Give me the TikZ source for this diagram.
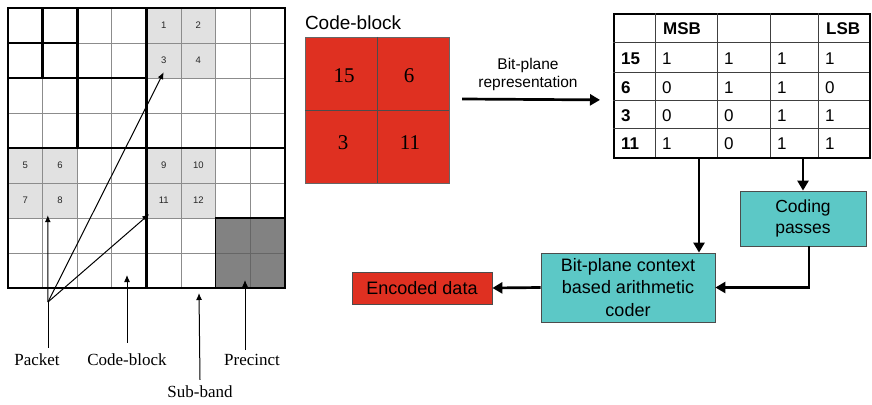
\documentclass[tikz,border=0pt]{standalone}
\usepackage{fontspec}
\setmainfont{Liberation Sans}
\newfontfamily\timesfont{Liberation Serif}
\usetikzlibrary{arrows.meta,positioning,calc}
\definecolor{blockred}{RGB}{223,48,33}
\definecolor{coderteal}{RGB}{92,200,198}
\definecolor{cellgray}{RGB}{225,225,225}
\definecolor{precgray}{RGB}{130,130,130}

\begin{document}
\begin{tikzpicture}[
  x=1pt, y=-1pt,
  >=Latex,
  thinline/.style={draw=black!45, line width=0.9pt},
  thickline/.style={line width=2.6pt},
  pcell/.style={fill=cellgray, minimum width=34.6pt, minimum height=35pt, inner sep=0pt, font=\fontsize{9.5}{10}\selectfont, text=black!85},
  lbl/.style={font=\timesfont\fontsize{17}{20}\selectfont, inner sep=1pt},
  thinarrow/.style={-{Latex[length=7pt,width=6pt]}, line width=1pt},
  bigarrow/.style={-{Triangle[length=10pt,width=11pt]}, line width=2.7pt},
  cbnum/.style={font=\timesfont\fontsize{21}{24}\selectfont, inner sep=0pt},
  tcell/.style={anchor=west, inner sep=0pt, font=\fontsize{17}{20}\selectfont},
  tbold/.style={tcell, font=\bfseries\fontsize{17}{20}\selectfont},
  box/.style={draw=black!70, line width=0.8pt, align=center, inner sep=0pt, font=\fontsize{18}{22.5}\selectfont}
]
\useasboundingbox (0,0) rectangle (872,404);

% sub-band grid with packets
\foreach \n/\i/\j in {1/4/0, 2/5/0, 3/4/1, 4/5/1, 5/0/4, 6/1/4, 7/0/5, 8/1/5, 9/4/4, 10/5/4, 11/4/5, 12/5/5}
  \node[pcell] (c\n) at ({8+(\i+0.5)*34.6},{8+(\j+0.5)*35}) {\n};
\fill[precgray] (215.6,218) rectangle (284.8,288);
\foreach \k in {1,...,7} {
  \draw[thinline] ({8+\k*34.6},8) -- ({8+\k*34.6},288);
  \draw[thinline] (8,{8+\k*35}) -- (284.8,{8+\k*35});
}
\draw[black!60, line width=0.9pt] (250.2,218) -- (250.2,288) (215.6,253) -- (284.8,253);
\draw[line width=1.6pt] (215.6,218) rectangle (284.8,288);
\draw[thickline] (8,8) rectangle (284.8,288);
\draw[thickline] (146.4,8) -- (146.4,288) (8,148) -- (284.8,148);
\draw[thickline] (77.2,8) -- (77.2,148) (8,78) -- (146.4,78);
\draw[thickline] (42.6,8) -- (42.6,78) (8,43) -- (77.2,43);

\node[lbl] (pkt) at (37,360) {Packet};
\node[lbl] (cbk) at (127,360) {Code-block};
\node[lbl] (pre) at (252,360) {Precinct};
\node[lbl] (sb) at (200,392) {Sub-band};

\coordinate (pj) at (48,302);
\coordinate (cbt) at (127,275);
\coordinate (sbt) at (199,293);
\coordinate (prt) at (245,280);

\draw[line width=1pt] ([xshift=11pt,yshift=5pt]pkt.north) -- (pj);
\draw[thinarrow] (pj) -- ([xshift=5.4pt,yshift=3pt]c8.south west);
\draw[thinarrow] (pj) -- ([xshift=3pt,yshift=4pt]c11.south west);
\draw[thinarrow] (pj) -- ([yshift=6pt]c3.south);
\draw[thinarrow] ([yshift=10pt]cbk.north) -- (cbt);
\draw[thinarrow] ([yshift=5pt]sb.north) -- (sbt);
\draw[thinarrow] ([xshift=-7pt,yshift=3pt]pre.north) -- (prt);

% code-block
\node[draw=black!60, fill=blockred, minimum width=144pt, minimum height=146pt, inner sep=0pt] (cb) at (377,110) {};
\draw[black!70, line width=0.8pt] (cb.north) -- (cb.south) (cb.west) -- (cb.east);
\node[cbnum] (n15) at (344,76) {15};
\node[cbnum] (n6) at (409,76) {6};
\node[cbnum] (n3) at (343,143) {3};
\node[cbnum] (n11) at (410,143) {11};
\node[anchor=base west, inner sep=0pt, font=\fontsize{19}{22}\selectfont] (cbtitle) at ([yshift=7.5pt]cb.north west) {Code-block};

\node[align=center, font=\fontsize{15.5}{18}\selectfont] (bprep) at (528,74) {Bit-plane\\representation};

% bit-plane table
\node[draw, line width=1.8pt, minimum width=256pt, minimum height=144pt, anchor=north west, inner sep=0pt] (tbl) at (613,13) {};
\foreach \x in {655,717,770,818}
  \draw[black!75, line width=0.9pt] (\x,13) -- (\x,157);
\foreach \y in {42,72,100,128}
  \draw[black!75, line width=0.9pt] (613,\y) -- (869,\y);
\node[tbold] (msb) at (663,29) {MSB};
\node[tbold] (lsb) at (826,29) {LSB};
\foreach \r/\y/\a/\b/\c/\d in {15/58.5/1/1/1/1, 6/87.5/0/1/1/0, 3/115.5/0/0/1/1, 11/144/1/0/1/1} {
  \node[tbold] (r\r) at (621,\y) {\r};
  \node[tcell] (v\r-1) at (662,\y) {\a};
  \node[tcell] (v\r-2) at (724,\y) {\b};
  \node[tcell] (v\r-3) at (777,\y) {\c};
  \node[tcell] (v\r-4) at (825,\y) {\d};
}

\draw[bigarrow] ([shift={(13,-11)}]cb.east) -- ([shift={(-13,14)}]tbl.west);

% coder
\node[box, fill=coderteal, minimum width=126pt, minimum height=55pt, font=\fontsize{17.5}{21}\selectfont] (cp) at (803,218.5) {Coding\\passes};
\node[box, fill=coderteal, minimum width=174pt, minimum height=69pt] (bpc) at (628,287.5) {Bit-plane context\\based arithmetic\\coder};
\node[box, fill=blockred, minimum width=140pt, minimum height=32pt] (enc) at (422,288) {Encoded data};

\coordinate (tap) at ([xshift=71pt]bpc.north);
\draw[bigarrow] (tap |- tbl.south) -- (tap);
\draw[bigarrow] (tbl.south -| cp.north) -- (cp.north);
\draw[bigarrow] ([xshift=6pt]cp.south) |- (bpc.east);
\draw[bigarrow] (bpc.west) -- (enc.east);
\end{tikzpicture}
\end{document}
